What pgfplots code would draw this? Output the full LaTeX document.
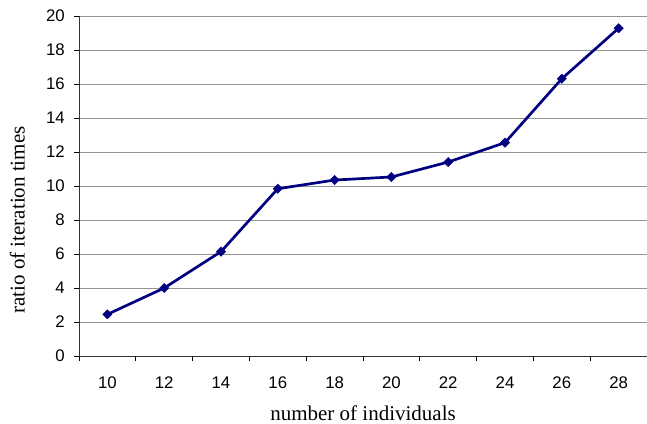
\documentclass[border=0pt]{standalone}
\usepackage{pgfplots}
\pgfplotsset{compat=1.18}
\usepackage{fontspec}
\setmainfont{Liberation Serif}
\newfontfamily\arialf{Liberation Sans}
\definecolor{navyline}{RGB}{0,0,128}
\begin{document}
\begin{tikzpicture}
\begin{axis}[
  scale only axis,
  width=568bp, height=340bp,
  xmin=0.5, xmax=10.5,
  ymin=0, ymax=20,
  xtick={1,...,10},
  xticklabels={10,12,14,16,18,20,22,24,26,28},
  minor xtick={0.5,1.5,...,10.5},
  ytick={0,2,...,20},
  major x tick style={draw=none},
  tick align=outside,
  tick pos=left,
  major tick length=5bp,
  minor tick length=5bp,
  every tick/.style={black, line width=0.8pt},
  ymajorgrids,
  major grid style={gray!85, line width=0.8pt},
  axis x line*=bottom,
  axis y line*=left,
  axis line style={line width=0.8pt, black!80, -},
  ticklabel style={font=\arialf\fontsize{16.8bp}{19bp}\selectfont},
  /pgf/number format/assume math mode=true,
  yticklabel style={anchor=east, inner sep=0pt, xshift=-9bp},
  xticklabel style={anchor=base, inner sep=0pt, yshift=-27bp},
  label style={font=\fontsize{21bp}{24bp}\selectfont},
  xlabel={number of individuals},
  ylabel={ratio of iteration times},
  xlabel style={at={(axis description cs:0.5,-0.191)}, anchor=base, inner sep=0pt},
  ylabel style={at={(axis description cs:-0.095,0.40)}, anchor=south, inner sep=0pt, rotate=0},
  clip=false,
]
\addplot[navyline, line width=2.7pt, mark=square*, mark size=3.3bp, mark options={solid, rotate=45, fill=navyline, line width=0.4pt}]
 coordinates {
 (1,2.45) (2,4.00) (3,6.14) (4,9.84) (5,10.35) (6,10.53) (7,11.41) (8,12.55) (9,16.31) (10,19.28)
 };
\coordinate (sw) at (rel axis cs:0,0);
\coordinate (ne) at (rel axis cs:1,1);
\end{axis}
\pgfresetboundingbox
\path ([xshift=-79bp,yshift=-68bp]sw) rectangle ([yshift=16bp]ne);
\end{tikzpicture}
\end{document}
